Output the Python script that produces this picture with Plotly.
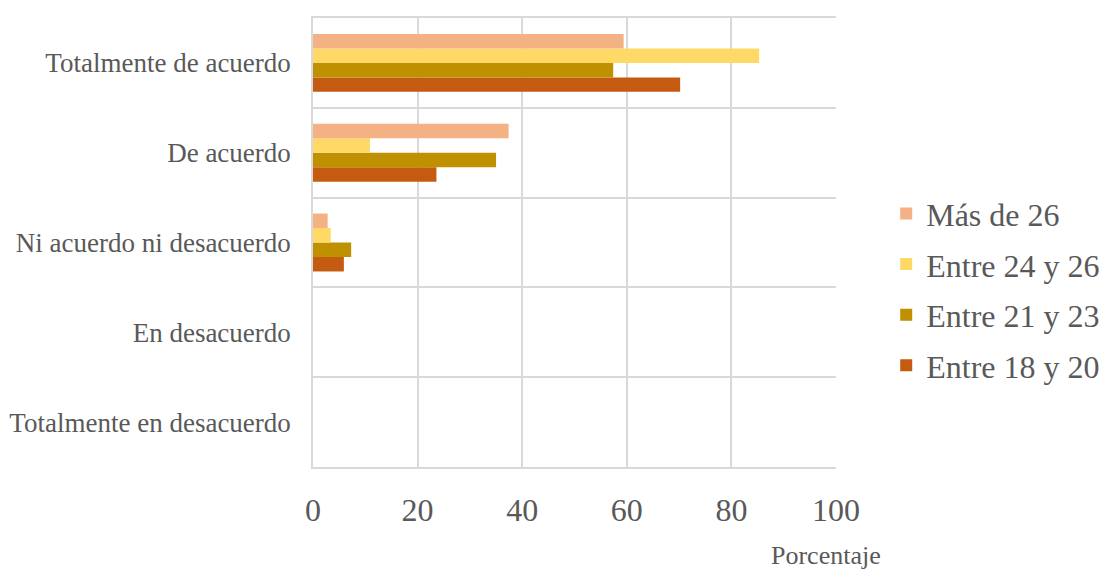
import plotly.graph_objects as go

categories = ["Totalmente en desacuerdo", "En desacuerdo", "Ni acuerdo ni desacuerdo",
              "De acuerdo", "Totalmente de acuerdo"]
series_names = ["Entre 18 y 20", "Entre 21 y 23", "Entre 24 y 26", "Más de 26"]
entre_18_20 = [0, 0, 5.9, 23.6, 70.2]
entre_21_23 = [0, 0, 7.3, 35.0, 57.4]
entre_24_26 = [0, 0, 3.4, 10.9, 85.3]
mas_de_26 = [0, 0, 2.8, 37.4, 59.4]
series_values = [entre_18_20, entre_21_23, entre_24_26, mas_de_26]
colors = ["#C55A11", "#BF9000", "#FFD966", "#F4B183"]
x_ticks = [0, 20, 40, 60, 80, 100]

fig = go.Figure()
n = len(series_names)
for i, (name, vals, col) in enumerate(zip(series_names, series_values, colors)):
    fig.add_trace(go.Bar(y=categories, x=vals, name=name, orientation="h",
                         legendgroup=name, legendrank=n - i,
                         marker=dict(color=col, line=dict(width=0))))

font_family = "Liberation Serif"
fig.update_layout(
    width=1103, height=572,
    margin=dict(l=313, r=267, t=18, b=105, autoexpand=False),
    paper_bgcolor="white", plot_bgcolor="white",
    barmode="group", bargap=0.355, bargroupgap=0,
    font=dict(family=font_family, color="#595959"),
    legend=dict(traceorder="grouped", x=1.096, y=0.395, xanchor="left", yanchor="middle",
                font=dict(size=32, color="#595959", family=font_family),
                itemwidth=30, tracegroupgap=6, bgcolor="rgba(0,0,0,0)"),
    xaxis=dict(range=[0, 100], tickvals=x_ticks, showgrid=True, gridcolor="#d9d9d9",
               gridwidth=1.5, zeroline=False, showline=True, mirror=True,
               linecolor="#d9d9d9", linewidth=1.5,
               tickfont=dict(size=32, color="#595959", family=font_family),
               ticks="", ticklabelstandoff=14, fixedrange=True),
    yaxis=dict(type="category", categoryorder="array", categoryarray=categories,
               tickson="boundaries", showgrid=True, gridcolor="#d9d9d9", gridwidth=1.5,
               showline=True, linecolor="#d9d9d9", linewidth=1.5, ticks="",
               tickfont=dict(size=27, color="#595959", family=font_family),
               ticklabelstandoff=15, fixedrange=True),
    annotations=[dict(text="Porcentaje", xref="paper", yref="paper", x=0.981, y=-0.198,
                      xanchor="center", yanchor="middle", showarrow=False,
                      font=dict(size=26, color="#595959", family=font_family))],
)
fig.write_html("out.html")
